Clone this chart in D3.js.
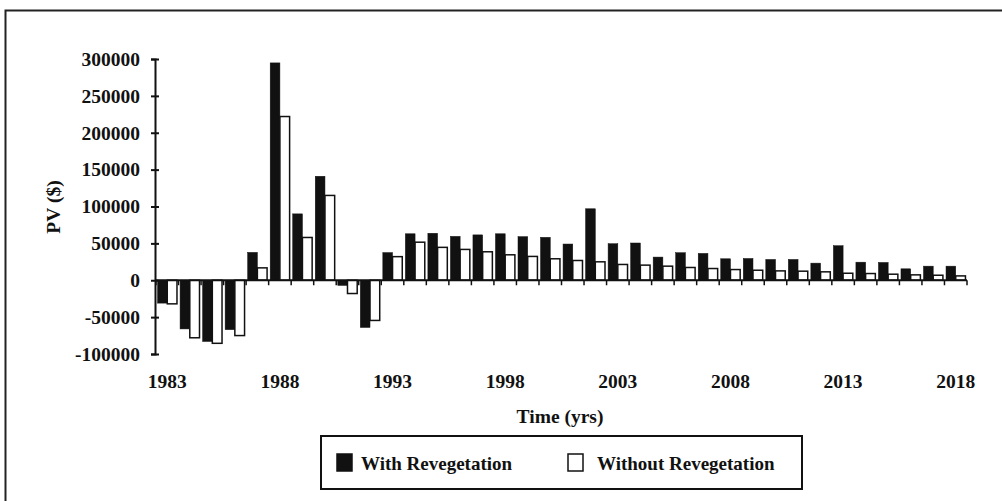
<!DOCTYPE html>
<html><head><meta charset="utf-8">
<script src="https://cdn.jsdelivr.net/npm/d3@7"></script>
<style>html,body{margin:0;padding:0;background:#fff;}svg{display:block;}</style>
</head><body>
<script>
const years = [1983,1984,1985,1986,1987,1988,1989,1990,1991,1992,1993,1994,1995,1996,1997,1998,1999,2000,2001,2002,2003,2004,2005,2006,2007,2008,2009,2010,2011,2012,2013,2014,2015,2016,2017,2018];
const withReveg = [-31000,-66000,-83000,-67000,37800,294700,90000,141000,-7000,-64000,37500,63000,63700,59500,61500,63000,59100,58200,49100,96900,49500,50500,31400,37300,36400,29100,29500,28200,28200,23200,46800,24500,24100,15500,19100,19100];
const withoutReveg = [-32000,-78000,-85500,-75000,16800,222000,58000,115000,-18000,-54500,32000,51600,44600,41800,38600,34500,32300,29100,26800,25000,21400,20500,19100,17300,15900,14500,13600,12700,12300,11400,9500,9100,8200,7300,6800,5900];
const yTicks = [-100000,-50000,0,50000,100000,150000,200000,250000,300000];
const xLabels = [1983,1988,1993,1998,2003,2008,2013,2018];
const seriesNames = ["With Revegetation","Without Revegetation"];

const W = 1002, H = 501;
const FONT = "'Liberation Serif','Times New Roman',serif";
const svg = d3.select("body").append("svg").attr("width", W).attr("height", H);
svg.append("rect").attr("width", W).attr("height", H).attr("fill", "#fff");
svg.append("rect").attr("x", 5.5).attr("y", 10.5).attr("width", 1010).attr("height", 510)
  .attr("fill", "none").attr("stroke", "#222").attr("stroke-width", 2);

const x0 = d3.scaleBand().domain(years).range([156, 967]).padding(0);
const x1 = d3.scaleBand().domain(seriesNames).range([0, x0.bandwidth()]).paddingInner(0).paddingOuter(0.16);
const y = d3.scaleLinear().domain([-100000, 300000]).range([354, 59]);

const data = years.map((yr, i) => ({yr, vals: [withReveg[i], withoutReveg[i]]}));

const g = svg.append("g");
const grp = g.selectAll("g.yr").data(data).join("g").attr("transform", d => `translate(${x0(d.yr)},0)`);
grp.selectAll("rect").data(d => d.vals.map((v, k) => ({v, k})))
  .join("rect")
  .attr("x", d => x1(seriesNames[d.k]))
  .attr("width", x1.bandwidth())
  .attr("y", d => y(Math.max(0, d.v)))
  .attr("height", d => Math.abs(y(d.v) - y(0)))
  .attr("fill", d => d.k === 0 ? "#111" : "#fff")
  .attr("stroke", "#111")
  .attr("stroke-width", d => d.k === 0 ? 0.5 : 1.5);

// Y axis
const fmt = d => String(d);
const yAxis = d3.axisLeft(y).tickValues(yTicks).tickSize(4).tickPadding(11).tickFormat(fmt);
const ya = svg.append("g").attr("transform", "translate(155,0)").call(yAxis);
ya.select(".domain").attr("stroke", "#111").attr("stroke-width", 2);
ya.selectAll(".tick line").attr("x2", -4).attr("x1", 4).attr("stroke", "#111").attr("stroke-width", 2);
ya.selectAll("text").attr("font-family", FONT).attr("font-weight", "bold").attr("font-size", 19.5).attr("fill", "#111");

// X axis at zero
const xa = svg.append("g").attr("transform", `translate(0,${y(0)})`);
xa.append("line").attr("x1", 155).attr("x2", 967).attr("stroke", "#111").attr("stroke-width", 2);
xa.selectAll("line.t").data(years.concat(["end"])).join("line").attr("class", "t")
  .attr("x1", d => d === "end" ? 967 : x0(d)).attr("x2", d => d === "end" ? 967 : x0(d))
  .attr("y1", 0).attr("y2", 5).attr("stroke", "#111").attr("stroke-width", 1.5);

svg.append("g").selectAll("text").data(xLabels).join("text")
  .attr("x", d => x0(d) + x0.bandwidth() / 2).attr("y", 388)
  .attr("text-anchor", "middle").attr("font-family", FONT).attr("font-weight", "bold")
  .attr("font-size", 19.5).attr("fill", "#111").text(d => d);

svg.append("text").attr("x", 560).attr("y", 423).attr("text-anchor", "middle")
  .attr("font-family", FONT).attr("font-weight", "bold").attr("font-size", 19.5).attr("fill", "#111")
  .text("Time (yrs)");

svg.append("text").attr("transform", "translate(60,207) rotate(-90)").attr("text-anchor", "middle")
  .attr("font-family", FONT).attr("font-weight", "bold").attr("font-size", 19.5).attr("fill", "#111")
  .text("PV ($)");

// Legend
const lg = svg.append("g");
lg.append("rect").attr("x", 321).attr("y", 436).attr("width", 481).attr("height", 53)
  .attr("fill", "#fff").attr("stroke", "#111").attr("stroke-width", 2);
const items = [{name: seriesNames[0], sx: 337, tx: 361, fill: "#111"}, {name: seriesNames[1], sx: 568, tx: 597, fill: "#fff"}];
items.forEach(it => {
  lg.append("rect").attr("x", it.sx).attr("y", 454).attr("width", 15).attr("height", 17)
    .attr("fill", it.fill).attr("stroke", "#111").attr("stroke-width", 1.5);
  lg.append("text").attr("x", it.tx).attr("y", 470).attr("font-family", FONT).attr("font-weight", "bold")
    .attr("font-size", 19).attr("fill", "#111").text(it.name);
});
</script>
</body></html>
